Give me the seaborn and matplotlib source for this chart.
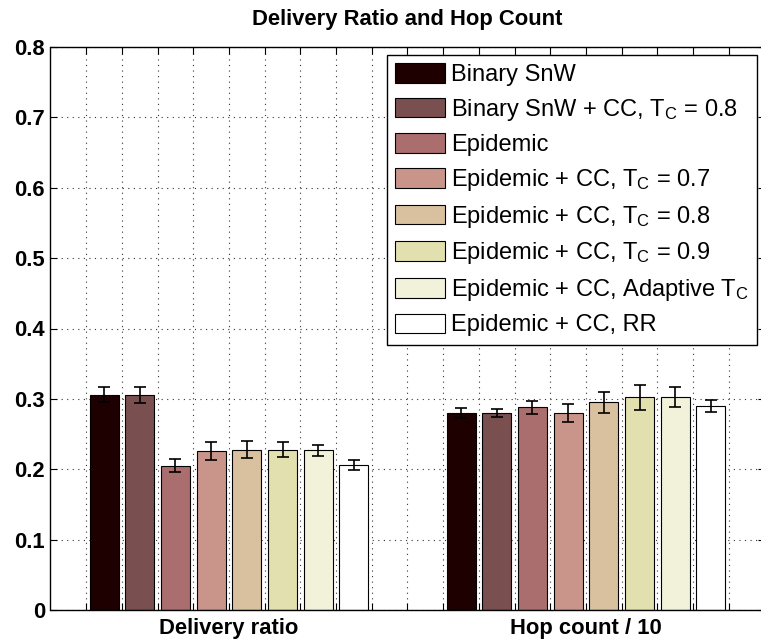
import matplotlib
matplotlib.use("Agg")
import matplotlib.pyplot as plt
import seaborn as sns
import pandas as pd
import numpy as np

# ---- data ----
categories = ["Delivery ratio", "Hop count / 10"]
methods = [
    "Binary SnW",
    r"Binary SnW + CC, T$_\mathregular{C}$ = 0.8",
    "Epidemic",
    r"Epidemic + CC, T$_\mathregular{C}$ = 0.7",
    r"Epidemic + CC, T$_\mathregular{C}$ = 0.8",
    r"Epidemic + CC, T$_\mathregular{C}$ = 0.9",
    r"Epidemic + CC, Adaptive T$_\mathregular{C}$",
    "Epidemic + CC, RR",
]
delivery_ratio = [0.306, 0.305, 0.205, 0.226, 0.228, 0.228, 0.227, 0.206]
delivery_err = [0.0105, 0.0115, 0.009, 0.0125, 0.012, 0.011, 0.0075, 0.0075]
hop_count = [0.280, 0.280, 0.288, 0.280, 0.295, 0.302, 0.303, 0.290]
hop_err = [0.007, 0.0055, 0.009, 0.013, 0.015, 0.018, 0.0145, 0.0085]
colors = ["#1f0000", "#7a4f4f", "#aa6e6e", "#c9958a", "#d9c09e", "#e3e0b0", "#f2f2da", "#ffffff"]
yticks = [0, 0.1, 0.2, 0.3, 0.4, 0.5, 0.6, 0.7, 0.8]
ytick_labels = ["0", "0.1", "0.2", "0.3", "0.4", "0.5", "0.6", "0.7", "0.8"]

rows = []
for m, d, h in zip(methods, delivery_ratio, hop_count):
    rows.append({"metric": categories[0], "method": m, "value": d})
    rows.append({"metric": categories[1], "method": m, "value": h})
df = pd.DataFrame(rows)
errs = {m: (de, he) for m, de, he in zip(methods, delivery_err, hop_err)}

plt.rcParams["font.family"] = ["Liberation Sans", "DejaVu Sans"]
plt.rcParams["mathtext.fontset"] = "custom"
plt.rcParams["mathtext.rm"] = "Liberation Sans"
plt.rcParams["mathtext.it"] = "Liberation Sans"

W, H = 761, 641
fig = plt.figure(figsize=(W / 100, H / 100), dpi=100)
ax = fig.add_axes([50.5 / W, 31 / H, 714 / W, 563 / H])

sns.barplot(data=df, x="metric", y="value", hue="method", order=categories,
            hue_order=methods, palette=colors, gap=0.19, edgecolor="black",
            linewidth=0.8, errorbar=None, ax=ax, legend=True, saturation=1)

for cont, m in zip(ax.containers, methods):
    xs = [p.get_x() + p.get_width() / 2 for p in cont]
    ys = [p.get_height() for p in cont]
    ax.errorbar(xs, ys, yerr=list(errs[m]), fmt="none", ecolor="black",
                elinewidth=1.2, capsize=4.3, capthick=1.2, zorder=5)

ax.set_xlim(-0.5, 1.5)
ax.set_ylim(0, 0.8)
ax.set_yticks(yticks)
ax.set_yticklabels(ytick_labels, fontsize=15.8, fontweight="bold")
ax.set_xticks([0, 1])
ax.set_xticklabels(categories, fontsize=15.8, fontweight="bold")
ax.set_xticks(np.arange(-0.4, 1.45, 0.1), minor=True)
ax.set_xlabel("")
ax.set_ylabel("")
ax.set_title("Delivery Ratio and Hop Count", fontsize=15.8, fontweight="bold", pad=15.5)

ax.set_axisbelow(True)
ax.grid(True, axis="y", linestyle=(0, (1, 4)), color="#333333", linewidth=0.8)
ax.grid(True, axis="x", which="minor", linestyle=(0, (1, 4)), color="#333333", linewidth=0.8)
ax.grid(True, axis="x", which="major", linestyle=(0, (1, 4)), color="#333333", linewidth=0.8)
ax.tick_params(axis="both", which="both", direction="in", length=5, width=0.8,
               top=True, right=True, pad=4)
ax.tick_params(axis="x", which="major", pad=5.5)
for s in ax.spines.values():
    s.set_linewidth(1.0)
    s.set_color("black")

handles, labels = ax.get_legend_handles_labels()
leg = ax.legend(handles, labels, loc="upper right",
                bbox_to_anchor=(757 / W, 1 - 55 / H), bbox_transform=fig.transFigure,
                fontsize=17, frameon=True, fancybox=False, framealpha=1,
                edgecolor="black", borderpad=0.35, handlelength=2.1,
                handleheight=0.9, handletextpad=0.25, labelspacing=0.45,
                borderaxespad=0)
leg.get_frame().set_linewidth(1.0)
for h in leg.legend_handles:
    h.set_edgecolor("black")
    h.set_linewidth(0.8)

fig.savefig("out.png", dpi=100)
